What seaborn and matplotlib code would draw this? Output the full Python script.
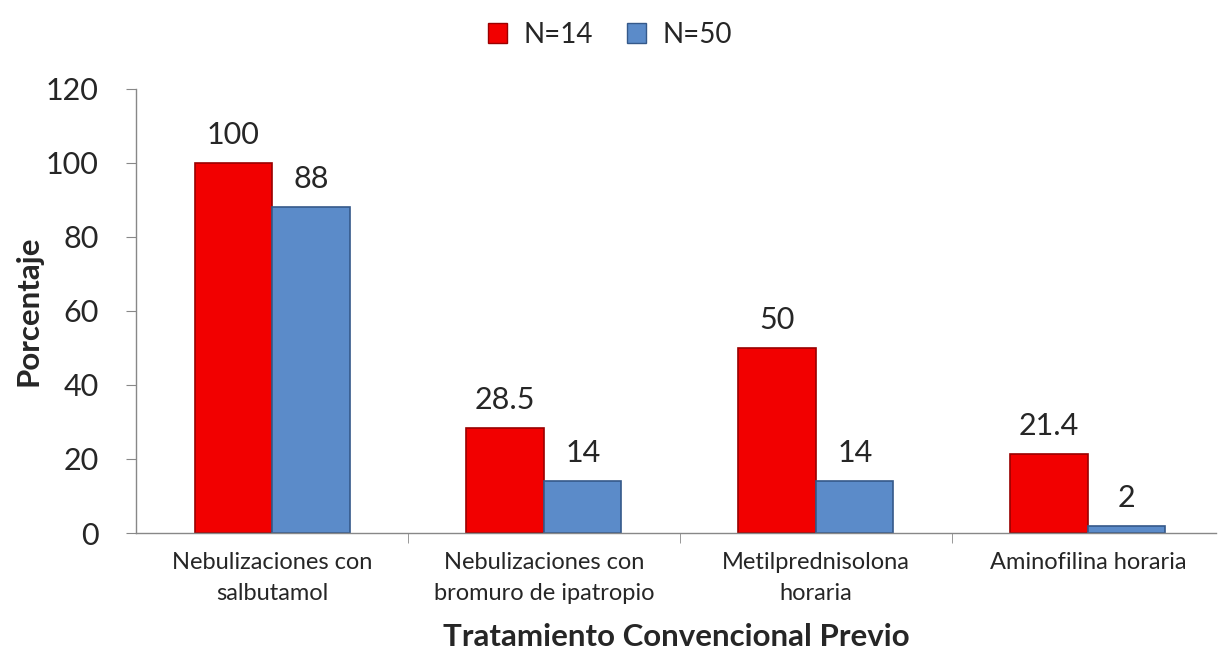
import pandas as pd
import matplotlib
matplotlib.use("Agg")
import matplotlib.pyplot as plt
import seaborn as sns
from matplotlib.patches import Patch

categories = ['Nebulizaciones con\nsalbutamol', 'Nebulizaciones con\nbromuro de ipatropio',
              'Metilprednisolona\nhoraria', 'Aminofilina horaria']
series_names = ['N=14', 'N=50']
n14_values = [100, 28.5, 50, 21.4]
n50_values = [88, 14, 14, 2]
n14_labels = ['100', '28.5', '50', '21.4']
n50_labels = ['88', '14', '14', '2']
colors = ['#F20000', '#5B8BC9']
edge_colors = ['#9A0000', '#35598A']

df = pd.DataFrame({
    'categoria': categories * 2,
    'grupo': [series_names[0]] * 4 + [series_names[1]] * 4,
    'valor': n14_values + n50_values,
})

sns.set_style('white')
plt.rcParams['font.family'] = ['Lato', 'DejaVu Sans']

fig = plt.figure(figsize=(12.2, 6.6), dpi=100)
ax = fig.add_axes([0.1115, 0.1924, 0.885, 0.673])

sns.barplot(data=df, x='categoria', y='valor', hue='grupo', palette=colors,
            width=0.57, gap=0, ax=ax, legend=False, saturation=1)

for container, ec, labs in zip(ax.containers, edge_colors, [n14_labels, n50_labels]):
    for bar in container:
        bar.set_edgecolor(ec)
        bar.set_linewidth(1.2)
    ax.bar_label(container, labels=labs, padding=10, fontsize=22)

ax.set_ylim(0, 120)
ax.set_yticks(range(0, 121, 20))
ax.set_xlim(-0.5, 3.47)
ax.tick_params(axis='y', labelsize=22, length=7, direction='out', left=True, color='#888888', pad=20)
ax.tick_params(axis='x', labelsize=17, length=0, pad=14)
for lab in ax.get_xticklabels():
    lab.set_linespacing(1.55)
ax.set_xticks([0.5, 1.5, 2.5], minor=True)
ax.tick_params(axis='x', which='minor', length=7, bottom=True, color='#888888')

for side in ['top', 'right']:
    ax.spines[side].set_visible(False)
for side in ['left', 'bottom']:
    ax.spines[side].set_color('#888888')
    ax.spines[side].set_linewidth(1)

ax.set_xlabel('Tratamiento Convencional Previo', fontsize=22.5, fontweight='bold', labelpad=14)
ax.set_ylabel('Porcentaje', fontsize=22.5, fontweight='bold', labelpad=2)

handles = [Patch(facecolor=c, edgecolor=e) for c, e in zip(colors, edge_colors)]
fig.legend(handles, series_names, loc='upper center', bbox_to_anchor=(0.5, 1.005), ncol=2,
           frameon=False, fontsize=20, handlelength=0.7, handleheight=0.7,
           columnspacing=1.2, handletextpad=0.6)

plt.savefig('out.png', dpi=100, facecolor='white')
